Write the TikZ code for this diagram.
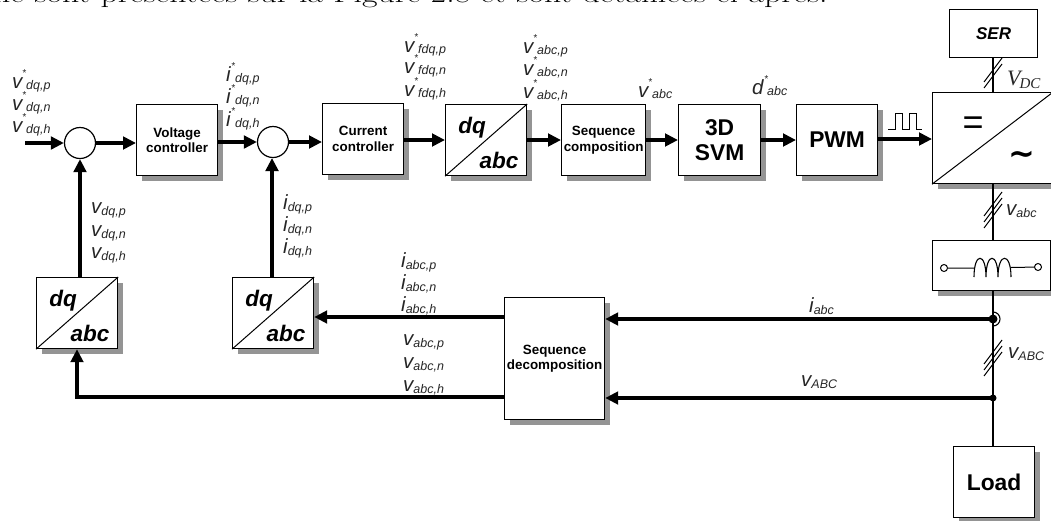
\documentclass[tikz,border=0pt]{standalone}
\usepackage{fontspec}
\setmainfont{Liberation Sans}
\newfontfamily\lmfont{Latin Modern Roman}
\newfontfamily\timesf{Liberation Serif}
\usetikzlibrary{arrows.meta,calc}
\tikzset{
  x=1pt,y=-1pt,
  blockbox/.style={draw=black,line width=1.2pt,fill=white,inner sep=0pt,anchor=north west,align=center,font=\bfseries\fontsize{13.4}{15.5}\selectfont},
  bigbox/.style={blockbox,font=\bfseries\fontsize{22.8}{25}\selectfont},
  shade/.style={fill=black!42,draw=none},
  sumnode/.style={draw=black,line width=1.2pt,fill=white,circle,minimum size=31pt,inner sep=0pt},
  thick arrow/.style={line width=4pt,-{Triangle[length=13pt,width=12.5pt]}},
  thin wire/.style={line width=1.2pt},
  lab/.style={inner sep=0pt,anchor=base west,font=\itshape\fontsize{20.5}{20.5}\selectfont,text=black!85},
  dqfont/.style={inner sep=0pt,font=\bfseries\itshape\fontsize{22.5}{24}\selectfont},
  dotnode/.style={circle,fill=black,inner sep=0pt},
  termnode/.style={circle,draw,line width=1pt,fill=white,minimum size=7pt,inner sep=0pt},
}
\newcommand{\subt}[1]{{\fontsize{12.5}{12.5}\selectfont #1}}
\newcommand{\tinystar}{{\fontsize{10}{10}\selectfont *}}
% main letter, star offset, subscript offset
\newcommand{\starred}[4]{\rlap{#1}\rlap{\hspace*{#2pt}\raisebox{11.5pt}{\tinystar}}\hspace*{#3pt}\raisebox{-1pt}{\subt{#4}}}
\newcommand{\plain}[2]{#1\raisebox{-2pt}{\subt{#2}}}
\newcommand{\blk}[6]{% name x1 y1 x2 y2 text
  \fill[shade] (#2+6,#3+6) rectangle (#4+6,#5+6);
  \node[blockbox,minimum width=#4-#2,minimum height=#5-#3] (#1) at (#2,#3) {#6};
}
\newcommand{\bigblk}[6]{%
  \fill[shade] (#2+6,#3+6) rectangle (#4+6,#5+6);
  \node[bigbox,minimum width=#4-#2,minimum height=#5-#3] (#1) at (#2,#3) {#6};
}
\newcommand{\dqblk}[5]{% name x1 y1 x2 y2
  \fill[shade] (#2+6,#3+6) rectangle (#4+6,#5+6);
  \node[blockbox,minimum width=#4-#2,minimum height=#5-#3] (#1) at (#2,#3) {};
  \draw[line width=1pt] (#1.south west) -- (#1.north east);
  \node[dqfont] (#1dq) at (#2+27,#3+24) {dq};
  \node[dqfont] (#1abc) at (#2+54,#3+56) {abc};
}
\newcommand{\slashes}[3]{% x y list
  \foreach \d in {#3}{\draw[line width=1pt] (#1-9,#2+\d+12) -- (#1+9,#2+\d-12);}
}
\begin{document}
\begin{tikzpicture}
\path[use as bounding box] (0,0) rectangle (1051,520);
\clip (0,0) rectangle (1051,520);
\node[inner sep=0pt,anchor=base west,font=\lmfont\fontsize{26}{26}\selectfont] (head) at (-7,2.5) {\scalebox{1.30}[1]{ne sont présentées sur la Figure 2.8 et sont détaillées ci-après.}};

% blocks
\blk{vc}{136}{104}{217}{175}{Voltage\\controller}
\blk{cc}{322}{103}{403}{174}{Current\\controller}
\dqblk{dqtop}{445}{104}{526}{175}
\blk{sc}{561}{104}{645}{175}{Sequence\\composition}
\bigblk{svm}{678}{104}{760}{175}{3D\\SVM}
\bigblk{pwm}{796}{104}{877}{175}{PWM}
\node[blockbox,minimum width=88,minimum height=48,font=\bfseries\itshape\fontsize{17}{17}\selectfont] (ser) at (949,9) {SER};
\fill[shade] (938,98) rectangle (1057,189);
\node[blockbox,minimum width=120,minimum height=91] (conv) at (932,92) {};
\draw[line width=1pt] (conv.south west) -- (conv.north east);
\node[inner sep=0pt,font=\fontsize{36}{36}\selectfont] (eq) at (973,125.5) {=};
\node[inner sep=0pt,font=\bfseries\fontsize{32}{32}\selectfont] (tilde) at (1021.5,158) {\fontspec{DejaVu Sans}∼};
\blk{filt}{932}{240}{1050}{290}{}
\bigblk{load}{953}{446}{1034}{517}{Load}
\blk{sd}{504}{297}{604}{419}{Sequence\\decomposition}
\dqblk{dqa}{36}{277}{117}{348}
\dqblk{dqb}{232}{277}{313}{348}
\node[sumnode] (s1) at (80,143) {};
\node[sumnode] (s2) at (273,142) {};

% forward path
\coordinate (in) at (25,143);
\draw[thick arrow] (in) -- (s1);
\draw[thick arrow] (s1) -- (vc.west |- s1);
\draw[thick arrow] (vc.east |- s2) -- (s2);
\draw[thick arrow] (s2) -- (cc.west |- s2);
\draw[thick arrow] (cc.east |- 0,140) -- (dqtop.west |- 0,140);
\draw[thick arrow] (dqtop.east |- 0,140) -- (sc.west |- 0,140);
\draw[thick arrow] (sc.east |- 0,140) -- (svm.west |- 0,140);
\draw[thick arrow] (svm.east |- 0,140) -- (pwm.west |- 0,140);
\draw[thick arrow] (pwm.east |- 0,139) -- (conv.west |- 0,139);
% pulse
\draw[line width=1pt] (888,129) -- (895,129) -- (895,113) -- (902,113) -- (902,129) -- (909,129) -- (909,113) -- (916,113) -- (916,129) -- (922,129);

% feedback
\draw[thick arrow] (dqa.north -| s1) -- (s1);
\draw[thick arrow] (dqb.north -| 272,0) -- (272,158);
\coordinate (n1) at (993,319);
\coordinate (n2) at (993,398);
\coordinate (c1) at (77,397);
\draw[thick arrow] (sd.west |- 0,317) -- (dqb.east |- 0,317);
\draw[thick arrow] (sd.west |- 0,397) -- (c1) -- (c1 |- dqa.south);
\draw[thick arrow] (n1) -- (sd.east |- n1);
\draw[thick arrow] (n2) -- (sd.east |- n2);

% wires
\draw[thin wire] (ser.south -| 993,0) -- (conv.north -| 993,0);
\draw[thin wire] (conv.south -| 993,0) -- (filt.north -| 993,0);
\draw[thin wire] (filt.south -| 993,0) -- (n1);
\draw[thin wire] (n1) -- (n2);
\draw[thin wire] (n2) -- (load.north -| 993,0);
\node[dotnode,minimum size=9pt] (d1) at (n1) {};
\node[dotnode,minimum size=7pt] (d2) at (n2) {};
\draw[line width=1.1pt] (993,312) arc (-90:90:7);
\slashes{993}{73}{-3,3}
\slashes{993}{210}{-6,0,6}
\slashes{993}{358}{-6,0,6}

% inductor
\node[termnode] (t1) at (944,268) {};
\node[termnode] (t2) at (1038,267) {};
\draw[line width=1pt] (t1) -- (974,268) (t2) -- (1011,267.5);
\draw[line width=1.1pt] (974,277) .. controls (974,252) and (986,252) .. (986,277)
 (986,277) .. controls (986,252) and (998,252) .. (998,277)
 (998,277) .. controls (998,252) and (1011,252) .. (1011,277);

% labels
\node[lab] (a1) at (12,88) {\starred{v}{10}{14}{dq,p}};
\node[lab] (a2) at (12,110) {\starred{v}{10}{14}{dq,n}};
\node[lab] (a3) at (12,132) {\starred{v}{10}{14}{dq,h}};
\node[lab] (b1) at (226,81) {\starred{i}{5}{9}{dq,p}};
\node[lab] (b2) at (226,103) {\starred{i}{5}{9}{dq,n}};
\node[lab] (b3) at (226,126) {\starred{i}{5}{9}{dq,h}};
\node[lab] (c1l) at (404,52) {\starred{v}{10}{14}{fdq,p}};
\node[lab] (c2l) at (404,73) {\starred{v}{10}{14}{fdq,n}};
\node[lab] (c3l) at (404,96) {\starred{v}{10}{14}{fdq,h}};
\node[lab] (d1l) at (523,53) {\starred{v}{10}{14}{abc,p}};
\node[lab] (d2l) at (523,75) {\starred{v}{10}{14}{abc,n}};
\node[lab] (d3l) at (523,98) {\starred{v}{10}{14}{abc,h}};
\node[lab] (e1) at (638,97) {\starred{v}{10}{14}{abc}};
\node[lab] (e2) at (752,94) {\starred{d}{12}{15}{abc}};
\node[inner sep=0pt,anchor=base west,font=\timesf\itshape\fontsize{22}{22}\selectfont,text=black!85] (vdc) at (1007,85) {V\kern-1pt\raisebox{-3pt}{\fontsize{15}{15}\selectfont DC}};
\node[lab] (f1) at (1006,215) {\plain{v}{abc}};
\node[lab] (f2) at (1008,358) {\plain{v}{ABC}};
\node[lab] (g1) at (91,213) {\plain{v}{dq,p}};
\node[lab] (g2) at (91,236) {\plain{v}{dq,n}};
\node[lab] (g3) at (91,258) {\plain{v}{dq,h}};
\node[lab] (h1) at (283,209) {\plain{i}{dq,p}};
\node[lab] (h2) at (283,231) {\plain{i}{dq,n}};
\node[lab] (h3) at (283,253) {\plain{i}{dq,h}};
\node[lab] (j1) at (401,267) {\plain{i}{abc,p}};
\node[lab] (j2) at (401,289) {\plain{i}{abc,n}};
\node[lab] (j3) at (401,311) {\plain{i}{abc,h}};
\node[lab] (k1) at (403,345) {\plain{v}{abc,p}};
\node[lab] (k2) at (403,368) {\plain{v}{abc,n}};
\node[lab] (k3) at (403,391) {\plain{v}{abc,h}};
\node[lab] (m1) at (809,312) {\plain{i}{abc}};
\node[lab] (m2) at (801,386) {\plain{v}{ABC}};
\end{tikzpicture}
\end{document}
